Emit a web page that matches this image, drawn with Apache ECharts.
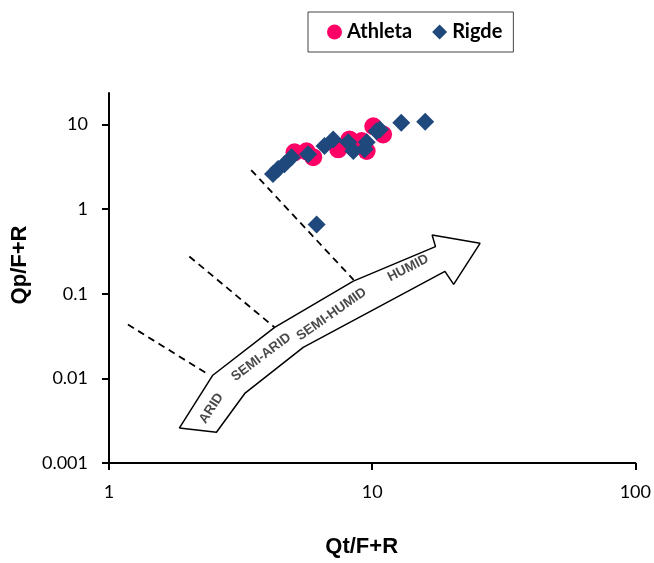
<!DOCTYPE html>
<html>
<head>
<meta charset="utf-8">
<script src="https://cdn.jsdelivr.net/npm/echarts@6/dist/echarts.min.js"></script>
<style>
  html, body { margin: 0; padding: 0; background: #fff; }
  #chart { width: 654px; height: 563px; }
</style>
</head>
<body>
<div id="chart"></div>
<script>
// --- Data ---
var athletaX = [5.07, 5.63, 5.97, 7.43, 8.20, 9.12, 9.53, 10.1, 11.0];
var athletaY = [4.70, 4.83, 4.11, 5.10, 6.68, 6.38, 4.87, 9.55, 7.64];

var rigdeX = [4.20, 4.39, 4.64, 4.94, 5.71, 6.59, 7.11, 8.11, 8.48, 9.36, 9.53, 10.4, 10.7, 12.9, 15.9, 6.15];
var rigdeY = [2.60, 2.98, 3.40, 4.11, 4.46, 5.57, 6.68, 6.16, 4.87, 5.10, 6.16, 8.35, 8.74, 10.5, 10.8, 0.66];

// dashed zone boundaries (start / end)
var boundaryX = [[1.18, 2.40], [2.02, 4.26], [3.47, 8.50]];
var boundaryY = [[0.0433, 0.0110], [0.276, 0.040], [2.90, 0.146]];

// arrow outline
var arrowX = [1.85, 2.56, 3.28, 5.47, 18.9, 20.4, 25.7, 16.9, 17.4, 8.48, 4.26, 2.48, 1.85];
var arrowY = [0.00259, 0.00231, 0.00664, 0.0233, 0.184, 0.129, 0.395, 0.494, 0.361, 0.141, 0.040, 0.0109, 0.00259];

// zone labels along the arrow
var zoneNames = ['ARID', 'SEMI-ARID', 'SEMI-HUMID', 'HUMID'];
var zoneX = [2.45, 3.79, 7.01, 13.7];
var zoneY = [0.00443, 0.0178, 0.0573, 0.201];
var zoneRotate = [57, 37, 35, 27];

function pairs(xs, ys) {
  return xs.map(function(x, i) { return [x, ys[i]]; });
}

var chart = echarts.init(document.getElementById('chart'));

var series = [];

// arrow
series.push({
  type: 'line', data: pairs(arrowX, arrowY), symbol: 'none', silent: true,
  lineStyle: { color: '#000', width: 1.5 }, z: 1
});

// boundaries
boundaryX.forEach(function(bx, i) {
  series.push({
    type: 'line', data: pairs(bx, boundaryY[i]), symbol: 'none', silent: true,
    lineStyle: { color: '#000', width: 1.8, type: [7, 5] }, z: 1
  });
});

// zone labels
series.push({
  type: 'scatter', symbolSize: 0, silent: true, z: 2,
  data: zoneNames.map(function(n, i) {
    return { name: n, value: [zoneX[i], zoneY[i]], label: { rotate: zoneRotate[i] } };
  }),
  label: {
    show: true, position: 'inside', formatter: '{b}',
    color: '#1a1a1a', fontFamily: 'Liberation Sans', fontWeight: 'bold', fontSize: 13.5
  }
});

series.push({
  name: 'Athleta', type: 'scatter', symbol: 'circle', symbolSize: 18,
  data: pairs(athletaX, athletaY), itemStyle: { color: '#FF0066', opacity: 1 }, z: 3
});
series.push({
  name: 'Rigde', type: 'scatter', symbol: 'diamond', symbolSize: 18,
  data: pairs(rigdeX, rigdeY), itemStyle: { color: '#1F497D', opacity: 1 }, z: 4
});

var tickFont = { fontFamily: 'Lato', fontSize: 18, color: '#000' };
var nameFont = { fontFamily: 'Liberation Sans', fontSize: 22, fontWeight: 'bold', color: '#000' };

chart.setOption({
  animation: false,
  backgroundColor: '#fff',
  legend: {
    data: ['Athleta', 'Rigde'],
    left: 308, top: 12,
    borderColor: '#444', borderWidth: 1,
    padding: [10, 11, 10, 19],
    itemGap: 20, itemWidth: 15, itemHeight: 15,
    textStyle: { fontFamily: 'Lato', fontWeight: 'bold', fontSize: 20, color: '#000' }
  },
  grid: { left: 109, right: 18, top: 93, bottom: 95, containLabel: false },
  xAxis: {
    type: 'log', logBase: 10, min: 1, max: 100,
    name: 'Qt/F+R', nameLocation: 'middle', nameGap: 73,
    nameTextStyle: Object.assign({ padding: [0, 21, 0, 0] }, nameFont),
    axisLine: { lineStyle: { color: '#000', width: 2 } },
    axisTick: { show: true, length: 7, lineStyle: { color: '#000', width: 2 } },
    axisLabel: Object.assign({ margin: 20 }, tickFont),
    splitLine: { show: false }, minorTick: { show: false }
  },
  yAxis: {
    type: 'log', logBase: 10, min: 0.001, max: 23.6,
    name: 'Qp/F+R', nameLocation: 'middle', nameGap: 78, nameRotate: 90,
    nameTextStyle: Object.assign({ padding: [0, 0, 0, 26] }, nameFont),
    axisLine: { lineStyle: { color: '#000', width: 2 } },
    axisTick: { show: true, length: 7, lineStyle: { color: '#000', width: 2 } },
    axisLabel: Object.assign({ margin: 21, showMaxLabel: false }, tickFont),
    splitLine: { show: false }, minorTick: { show: false }
  },
  series: series
});
</script>
</body>
</html>
